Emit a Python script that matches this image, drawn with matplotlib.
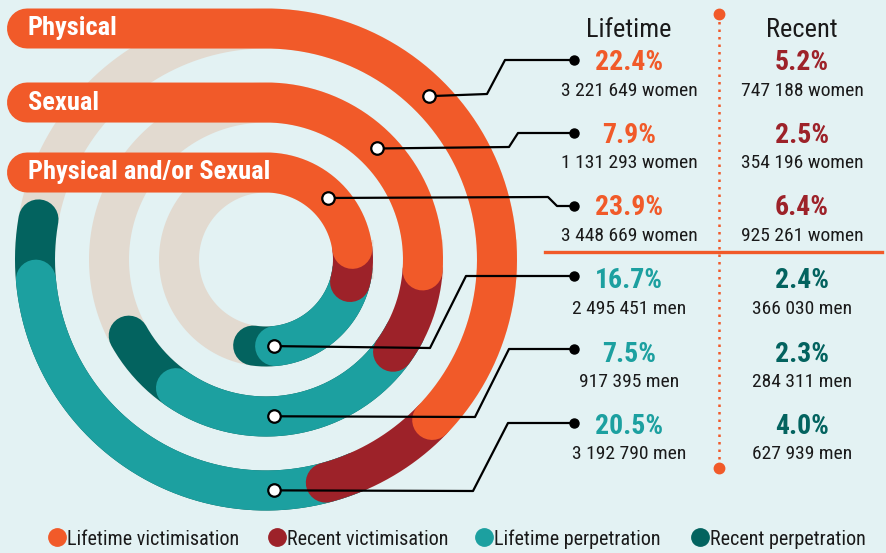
import numpy as np
import matplotlib
matplotlib.use("Agg")
import matplotlib.pyplot as plt

# data
rings = ["Physical", "Sexual", "Physical and/or Sexual"]
women_life_pct = [22.4, 7.9, 23.9]
women_life_n = ["3 221 649 women", "1 131 293 women", "3 448 669 women"]
women_recent_pct = [5.2, 2.5, 6.4]
women_recent_n = ["747 188 women", "354 196 women", "925 261 women"]
men_life_pct = [16.7, 7.5, 20.5]
men_life_n = ["2 495 451 men", "917 395 men", "3 192 790 men"]
men_recent_pct = [2.4, 2.3, 4.0]
men_recent_n = ["366 030 men", "284 311 men", "627 939 men"]

# arc end angles (deg, 90 = top, clockwise = decreasing) per ring, outer -> inner
vic_life_end = [-44, -4, 7]
vic_recent_end = [-75, -36, -15]
perp_life_end = [-175, -125, -84]
perp_recent_end = [-190, -151, -98.5]

legend_labels = ["Lifetime victimisation", "Recent victimisation",
                 "Lifetime perpetration", "Recent perpetration"]

BG = "#e3f2f3"
ORANGE = "#f15a29"
RED = "#9d2229"
TEAL = "#1ca0a0"
DTEAL = "#03635f"
GREY = "#e2dad0"
INK = "#1a1a1a"

plt.rcParams['font.family'] = ['Roboto Condensed', 'Liberation Sans Narrow', 'Roboto', 'DejaVu Sans']

fig = plt.figure(figsize=(8.87, 5.53), dpi=100, facecolor=BG)
ax = fig.add_axes([0, 0, 1, 1])
ax.set_xlim(0, 887)
ax.set_ylim(553, 0)
ax.axis('off')

cx, cy = 266, 259.5
radii = [231, 157, 87]
band = 40 * 0.72  # px -> pt


def arc(a0, a1, r, n=200):
    t = np.radians(np.linspace(a0, a1, n))
    return cx + r * np.cos(t), cy - r * np.sin(t)


def stroke(x, y, color, z):
    ax.plot(x, y, color=color, lw=band, solid_capstyle='round', zorder=z)


# grey tracks
for r in radii:
    x, y = arc(0, 360, r, 400)
    ax.plot(x, y, color=GREY, lw=band, zorder=1)

for i, r in enumerate(radii):
    # perpetration (bottom, going clockwise to the left)
    stroke(*arc(vic_recent_end[i] + 8, perp_recent_end[i], r), DTEAL, 2)
    stroke(*arc(vic_recent_end[i] + 8, perp_life_end[i], r), TEAL, 3)
    # recent victimisation
    stroke(*arc(vic_life_end[i], vic_recent_end[i], r), RED, 4)
    # lifetime victimisation: straight label bar + arc
    ax_, ay_ = arc(90, vic_life_end[i], r)
    x = np.concatenate([[27], ax_])
    y = np.concatenate([[cy - r], ay_])
    stroke(x, y, ORANGE, 5 + i)
    ax.text(28, cy - r + 7, rings[i], color='white', fontsize=19, fontweight='bold',
            va='baseline', ha='left', zorder=10)

# leader lines
row_y_w = [60, 133, 206]
row_y_m = [276, 349, 423]
vic_paths = [[(487, 94), (505, 60)], [(509, 147), (518, 133)], [(548, 197), (557, 206)]]
perp_paths = {2: [(430, 348), (466, 276)], 1: [(475, 417), (509, 349)], 0: [(473, 491), (508, 423)]}
perp_marker = [-88, -87, -84.5]

for i, r in enumerate(radii):
    mx, my = arc(45, 45, r, 1)
    pts = [(mx[0], my[0])] + vic_paths[i] + [(574, row_y_w[i])]
    ax.plot(*zip(*pts), color='black', lw=1.6, zorder=11)
    ax.plot(mx, my, 'o', ms=9, mfc='white', mec='black', mew=1.6, zorder=12)
    ax.plot(574, row_y_w[i], 'o', ms=6.5, color='black', zorder=12)

men_order = [2, 1, 0]  # rows top->bottom connect inner, middle, outer ring
for row, i in enumerate(men_order):
    mx, my = arc(perp_marker[i], perp_marker[i], radii[i], 1)
    pts = [(mx[0], my[0])] + perp_paths[i] + [(574, row_y_m[row])]
    ax.plot(*zip(*pts), color='black', lw=1.6, zorder=11)
    ax.plot(mx, my, 'o', ms=9, mfc='white', mec='black', mew=1.6, zorder=12)
    ax.plot(574, row_y_m[row], 'o', ms=6.5, color='black', zorder=12)

# table
col_l, col_r = 629, 802
ax.text(col_l, 37, "Lifetime", ha='center', va='baseline', fontsize=19, color=INK)
ax.text(col_r, 37, "Recent", ha='center', va='baseline', fontsize=19, color=INK)

pct_base_w = [70, 143, 215]
n_base_w = [96, 168, 241]
pct_base_m = [288, 362, 434]
n_base_m = [314, 387, 459]
pct_kw = dict(ha='center', va='baseline', fontsize=20, fontweight='bold')
n_kw = dict(ha='center', va='baseline', fontsize=14, color=INK)
for k in range(3):
    ax.text(col_l, pct_base_w[k], f"{women_life_pct[k]:.1f}%", color=ORANGE, **pct_kw)
    ax.text(col_l, n_base_w[k], women_life_n[k], **n_kw)
    ax.text(col_r, pct_base_w[k], f"{women_recent_pct[k]:.1f}%", color=RED, **pct_kw)
    ax.text(col_r, n_base_w[k], women_recent_n[k], **n_kw)
    ax.text(col_l, pct_base_m[k], f"{men_life_pct[k]:.1f}%", color=TEAL, **pct_kw)
    ax.text(col_l, n_base_m[k], men_life_n[k], **n_kw)
    ax.text(col_r, pct_base_m[k], f"{men_recent_pct[k]:.1f}%", color=DTEAL, **pct_kw)
    ax.text(col_r, n_base_m[k], men_recent_n[k], **n_kw)

# dividers
ax.plot([719, 719], [14, 468], color=ORANGE, lw=1.8, ls=(0, (1, 2)), zorder=3)
ax.plot([719, 719], [14, 468], 'o', color=ORANGE, ms=7.5, zorder=4)
ax.plot([545, 882], [252, 252], color=ORANGE, lw=2.4, zorder=3)

# legend
leg_x = [57, 277, 484, 700]
leg_c = [ORANGE, RED, TEAL, DTEAL]
for lx, lc, lab in zip(leg_x, leg_c, legend_labels):
    ax.plot(lx, 537, 'o', color=lc, ms=12.5)
    ax.text(lx + 10, 545, lab, ha='left', va='baseline', fontsize=14.5, color=INK)

fig.savefig("out.png", dpi=100, facecolor=BG)
